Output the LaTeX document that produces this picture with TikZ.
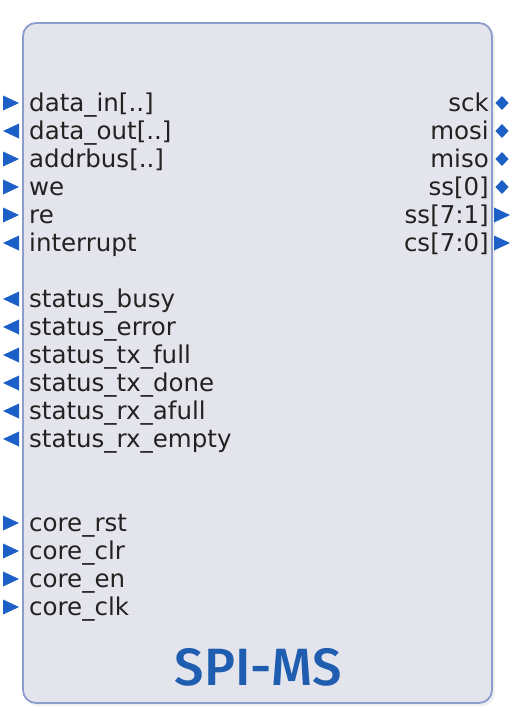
\documentclass[tikz,border=0pt]{standalone}
\usepackage{fontspec}
\setmainfont{DejaVu Sans}
\IfFontExistsTF{Fira Sans Medium}
  {\newfontfamily\titlefont{Fira Sans Medium}}
  {\newfontfamily\titlefont{Fira Sans}}
\usetikzlibrary{positioning}

\definecolor{portblue}{HTML}{1C5FC6}
\definecolor{boxfill}{HTML}{E4E4EC}
\definecolor{boxline}{HTML}{8C9CCC}
\definecolor{labelgray}{HTML}{222222}
\definecolor{titleblue}{HTML}{1F5DB0}

\tikzset{
  portmark/.style={fill=portblue},
  portlabel/.style={inner sep=0pt, text=labelgray,
    font=\fontsize{24.5pt}{28pt}\selectfont}
}
% marker shapes, drawn round a named coordinate
\newcommand{\inmark}[1]{\fill[portmark] (#1) ++(-8,-7.5) -- ++(16,7.5) -- ++(-16,7.5) -- cycle;}
\newcommand{\outmark}[1]{\fill[portmark] (#1) ++(8,-7.5) -- ++(-16,7.5) -- ++(16,7.5) -- cycle;}
\newcommand{\iomark}[1]{\fill[portmark] (#1) ++(0,-7) -- ++(6.5,7) -- ++(-6.5,7) -- ++(-6.5,-7) -- cycle;}

\begin{document}
\begin{tikzpicture}[x=1pt,y=-1pt]
\useasboundingbox (0,0) rectangle (514,726);

% block body
\fill[black!6, rounded corners=13pt] (25,26) rectangle (495,706);
\node[draw=boxline, line width=1.8pt, fill=boxfill, rounded corners=13pt,
  minimum width=469pt, minimum height=680pt, inner sep=0pt] (block) at (257.5,363) {};
\node[font=\titlefont\fontsize{52.5pt}{56pt}\selectfont, text=titleblue] (title) at (258,667) {SPI-MS};

% left side ports
\foreach \y/\lbl/\kind [count=\i] in {
    103/data\_in[..]/in, 131/data\_out[..]/out, 159/addrbus[..]/in,
    187/we/in, 215/re/in, 243/interrupt/out,
    299/status\_busy/out, 327/status\_error/out, 355/status\_tx\_full/out,
    383/status\_tx\_done/out, 411/status\_rx\_afull/out, 439/status\_rx\_empty/out,
    523/core\_rst/in, 551/core\_clr/in, 579/core\_en/in, 607/core\_clk/in} {
  \coordinate (pl\i) at (11,\y);
  \csname\kind mark\endcsname{pl\i}
  \node[portlabel, anchor=base west] (tl\i) at (29,\y+8.5) {\lbl};
}

% right side ports
\foreach \y/\lbl/\kind [count=\i] in {
    103/sck/io, 131/mosi/io, 159/miso/io, 187/ss[0]/io,
    215/ss[7:1]/in, 243/cs[7:0]/in} {
  \coordinate (pr\i) at (502,\y);
  \csname\kind mark\endcsname{pr\i}
  \node[portlabel, anchor=base east] (tr\i) at (489,\y+8.5) {\lbl};
}
\end{tikzpicture}
\end{document}
